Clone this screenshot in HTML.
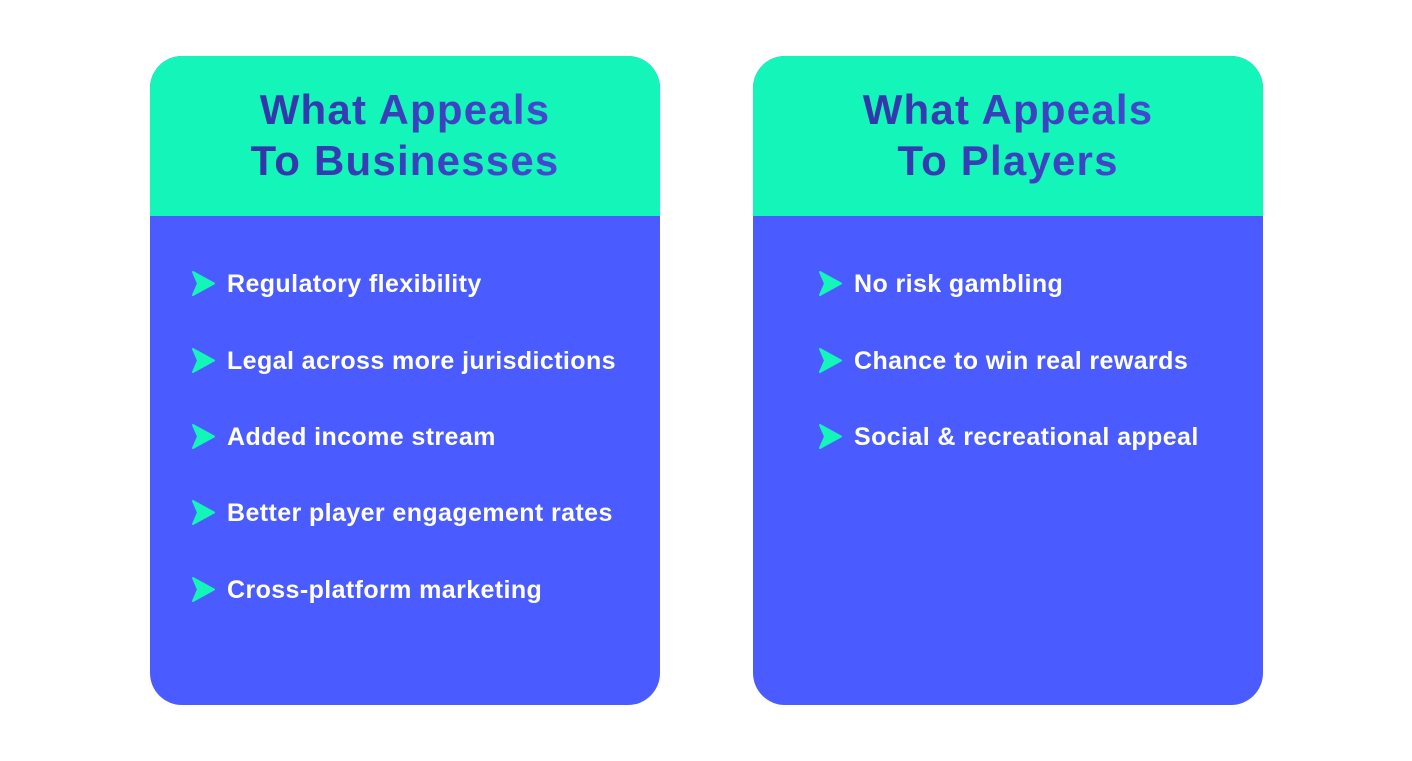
<!DOCTYPE html>
<html><head><style>
body{margin:0;width:1412px;height:761px;background:#fff;position:relative;overflow:hidden;font-family:"Liberation Sans",sans-serif}
.card{position:absolute;top:56px;width:510px;height:649px;border-radius:32px;overflow:hidden;background:#4a5cff}
.hd{position:absolute;left:0;top:0;width:100%;height:160px;background:#14f5b9}
.t{position:absolute;left:0;width:100%;text-align:center;font-weight:bold;font-size:42px;line-height:51px;top:28px;letter-spacing:1.2px;
background:linear-gradient(90deg,#2b2f98,#4a50e0);-webkit-background-clip:text;background-clip:text;color:transparent}
.it{position:absolute;left:77px;color:#fff;font-weight:bold;font-size:25px;letter-spacing:0.4px;white-space:nowrap}
.ar{position:absolute;left:-36px;top:1px;width:24px;height:25px}
</style></head><body>
<div class="card" style="left:150px">
<div class="hd"></div>
<div class="t">What Appeals<br>To Businesses</div>
<div class="it" style="top:214px"><svg class="ar" viewBox="0 0 24 25"><path d="M2 1 L23 12.5 L2 24 L7 12.5Z" fill="#14f5b9" stroke="#14f5b9" stroke-linejoin="round" stroke-width="2"/></svg>Regulatory flexibility</div>
<div class="it" style="top:291px"><svg class="ar" viewBox="0 0 24 25"><path d="M2 1 L23 12.5 L2 24 L7 12.5Z" fill="#14f5b9" stroke="#14f5b9" stroke-linejoin="round" stroke-width="2"/></svg>Legal across more jurisdictions</div>
<div class="it" style="top:367px"><svg class="ar" viewBox="0 0 24 25"><path d="M2 1 L23 12.5 L2 24 L7 12.5Z" fill="#14f5b9" stroke="#14f5b9" stroke-linejoin="round" stroke-width="2"/></svg>Added income stream</div>
<div class="it" style="top:443px"><svg class="ar" viewBox="0 0 24 25"><path d="M2 1 L23 12.5 L2 24 L7 12.5Z" fill="#14f5b9" stroke="#14f5b9" stroke-linejoin="round" stroke-width="2"/></svg>Better player engagement rates</div>
<div class="it" style="top:520px"><svg class="ar" viewBox="0 0 24 25"><path d="M2 1 L23 12.5 L2 24 L7 12.5Z" fill="#14f5b9" stroke="#14f5b9" stroke-linejoin="round" stroke-width="2"/></svg>Cross-platform marketing</div>
</div>
<div class="card" style="left:753px">
<div class="hd"></div>
<div class="t">What Appeals<br>To Players</div>
<div class="it" style="top:214px;left:101px"><svg class="ar" viewBox="0 0 24 25"><path d="M2 1 L23 12.5 L2 24 L7 12.5Z" fill="#14f5b9" stroke="#14f5b9" stroke-linejoin="round" stroke-width="2"/></svg>No risk gambling</div>
<div class="it" style="top:291px;left:101px"><svg class="ar" viewBox="0 0 24 25"><path d="M2 1 L23 12.5 L2 24 L7 12.5Z" fill="#14f5b9" stroke="#14f5b9" stroke-linejoin="round" stroke-width="2"/></svg>Chance to win real rewards</div>
<div class="it" style="top:367px;left:101px"><svg class="ar" viewBox="0 0 24 25"><path d="M2 1 L23 12.5 L2 24 L7 12.5Z" fill="#14f5b9" stroke="#14f5b9" stroke-linejoin="round" stroke-width="2"/></svg>Social &amp; recreational appeal</div>
</div>
</body></html>
